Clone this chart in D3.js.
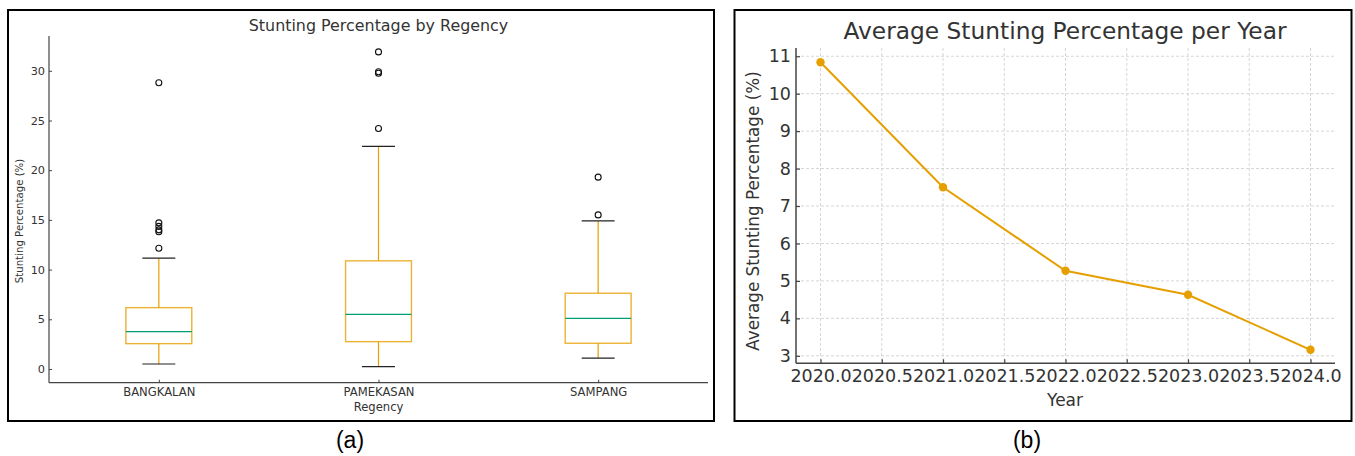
<!DOCTYPE html>
<html lang="en">
<head>
<meta charset="UTF-8">
<title>Stunting Percentage</title>
<script src="https://d3js.org/d3.v7.min.js"></script>
<style>
  body { margin: 0; background: #fff; }
  svg text { font-family: "DejaVu Sans", sans-serif; }
  .caption { font-family: "Liberation Sans", Arial, sans-serif !important; }
  .tick text { fill: #333; }
</style>
</head>
<body>
<svg id="chart" width="1355" height="456"></svg>
<script>
// ---- data: box plot (a) ----
var regencies = ["BANGKALAN", "PAMEKASAN", "SAMPANG"];
var q1 = [2.55, 2.75, 2.59];
var median = [3.76, 5.5, 5.1];
var q3 = [6.17, 10.88, 7.62];
var whiskerLow = [0.5, 0.23, 1.1];
var whiskerHigh = [11.15, 22.4, 14.9];
var outliers = [
  [12.15, 13.8, 14.0, 14.35, 14.7, 28.8],
  [24.2, 29.75, 29.9, 31.9],
  [15.5, 19.3]
];
var boxTicks = [0, 5, 10, 15, 20, 25, 30];

// ---- data: line chart (b) ----
var years = [2020, 2021, 2022, 2023, 2024];
var avgStunting = [10.84, 7.5, 5.27, 4.63, 3.16];
var yearTicks = [2020, 2020.5, 2021, 2021.5, 2022, 2022.5, 2023, 2023.5, 2024];
var avgTicks = [3, 4, 5, 6, 7, 8, 9, 10, 11];

var svg = d3.select("#chart");
var orange = "#E69F00", green = "#009E73", axisCol = "#444";

// frames around the two panels
svg.append("rect").attr("x", 8).attr("y", 10).attr("width", 706).attr("height", 411)
  .attr("fill", "none").attr("stroke", "#000").attr("stroke-width", 2);
svg.append("rect").attr("x", 734.5).attr("y", 10).attr("width", 617).attr("height", 411)
  .attr("fill", "none").attr("stroke", "#000").attr("stroke-width", 2);

// ================= panel (a) =================
var xa = d3.scaleLinear().domain([0.5, 3.5]).range([49, 708]);
var ya = d3.scaleLinear().domain([-1.38, 33.5]).range([382.7, 36]);
var ga = svg.append("g");

// axes
var yAxisA = ga.append("g").attr("transform", "translate(49,0)")
  .call(d3.axisRight(ya).tickValues(boxTicks).tickSize(3).tickFormat(d3.format("d")));
yAxisA.selectAll(".tick text").attr("x", -4).attr("text-anchor", "end").style("font-size", "11.3px");
var xAxisA = ga.append("g").attr("transform", "translate(0,382.7)")
  .call(d3.axisTop(xa).tickValues([1, 2, 3]).tickSize(3).tickFormat(function(d) { return regencies[d - 1]; }));
xAxisA.selectAll(".tick text").attr("y", 13.5).attr("dy", "0").style("font-size", "11.6px");
[yAxisA, xAxisA].forEach(function(a) {
  a.select(".domain").attr("stroke", axisCol).attr("stroke-width", 1.2);
  a.selectAll(".tick line").attr("stroke", axisCol);
});
xAxisA.select(".domain").attr("d", "M49,0H708");
yAxisA.select(".domain").attr("d", "M0,36V382.7");

var boxW = 0.3, capW = 0.15;
regencies.forEach(function(r, i) {
  var c = i + 1;
  var g = ga.append("g");
  // whiskers
  g.append("line").attr("x1", xa(c)).attr("x2", xa(c)).attr("y1", ya(q3[i])).attr("y2", ya(whiskerHigh[i]))
    .attr("stroke", orange).attr("stroke-width", 1.2);
  g.append("line").attr("x1", xa(c)).attr("x2", xa(c)).attr("y1", ya(q1[i])).attr("y2", ya(whiskerLow[i]))
    .attr("stroke", orange).attr("stroke-width", 1.2);
  // caps
  [whiskerHigh[i], whiskerLow[i]].forEach(function(v) {
    g.append("line").attr("x1", xa(c - capW / 2)).attr("x2", xa(c + capW / 2))
      .attr("y1", ya(v)).attr("y2", ya(v)).attr("stroke", "#222").attr("stroke-width", 1.2);
  });
  // box
  g.append("rect").attr("x", xa(c - boxW / 2)).attr("y", ya(q3[i]))
    .attr("width", xa(c + boxW / 2) - xa(c - boxW / 2)).attr("height", ya(q1[i]) - ya(q3[i]))
    .attr("fill", "none").attr("stroke", orange).attr("stroke-opacity", 0.8).attr("stroke-width", 1.4);
  // median
  g.append("line").attr("x1", xa(c - boxW / 2)).attr("x2", xa(c + boxW / 2))
    .attr("y1", ya(median[i])).attr("y2", ya(median[i])).attr("stroke", green).attr("stroke-width", 1.2);
  // fliers
  g.selectAll("circle").data(outliers[i]).enter().append("circle")
    .attr("cx", xa(c)).attr("cy", function(d) { return ya(d); }).attr("r", 3)
    .attr("fill", "none").attr("stroke", "#111").attr("stroke-width", 1.1);
});

ga.append("text").attr("x", 378.5).attr("y", 31).attr("text-anchor", "middle")
  .style("font-size", "15.9px").attr("fill", "#333").text("Stunting Percentage by Regency");
ga.append("text").attr("transform", "translate(23,221) rotate(-90)").attr("text-anchor", "middle")
  .style("font-size", "10.2px").attr("fill", "#333").text("Stunting Percentage (%)");
ga.append("text").attr("x", 378.5).attr("y", 411).attr("text-anchor", "middle")
  .style("font-size", "11.6px").attr("fill", "#333").text("Regency");

// ================= panel (b) =================
var xb = d3.scaleLinear().domain([2019.8, 2024.2]).range([796, 1335]);
var yb = d3.scaleLinear().domain([2.8, 11.22]).range([363.3, 48]);
var gb = svg.append("g");

// grid
gb.append("g").selectAll("line").data(yearTicks).enter().append("line")
  .attr("x1", function(d) { return xb(d); }).attr("x2", function(d) { return xb(d); })
  .attr("y1", 48).attr("y2", 363.3)
  .attr("stroke", "#ccc").attr("stroke-width", 0.8).attr("stroke-dasharray", "3,2");
gb.append("g").selectAll("line").data(avgTicks).enter().append("line")
  .attr("x1", 796).attr("x2", 1335)
  .attr("y1", function(d) { return yb(d); }).attr("y2", function(d) { return yb(d); })
  .attr("stroke", "#ccc").attr("stroke-width", 0.8).attr("stroke-dasharray", "3,2");

var yAxisB = gb.append("g").attr("transform", "translate(796,0)")
  .call(d3.axisRight(yb).tickValues(avgTicks).tickSize(4).tickFormat(d3.format("d")));
yAxisB.selectAll(".tick text").attr("x", -5).attr("text-anchor", "end").style("font-size", "17.5px");
var xAxisB = gb.append("g").attr("transform", "translate(0,363.3)")
  .call(d3.axisTop(xb).tickValues(yearTicks).tickSize(4).tickFormat(d3.format(".1f")));
xAxisB.selectAll(".tick text").attr("y", 19).attr("dy", "0").style("font-size", "17.5px");
[yAxisB, xAxisB].forEach(function(a) {
  a.select(".domain").attr("stroke", axisCol).attr("stroke-width", 1.5);
  a.selectAll(".tick line").attr("stroke", axisCol).attr("stroke-width", 1.2);
});
xAxisB.select(".domain").attr("d", "M796,0H1335");
yAxisB.select(".domain").attr("d", "M0,48V363.3");

var line = d3.line().x(function(d, i) { return xb(years[i]); }).y(function(d) { return yb(d); });
gb.append("path").datum(avgStunting).attr("d", line)
  .attr("fill", "none").attr("stroke", orange).attr("stroke-width", 2);
gb.selectAll(".pt").data(avgStunting).enter().append("circle").attr("class", "pt")
  .attr("cx", function(d, i) { return xb(years[i]); }).attr("cy", function(d) { return yb(d); })
  .attr("r", 4.2).attr("fill", orange);

gb.append("text").attr("x", 1065).attr("y", 39).attr("text-anchor", "middle")
  .style("font-size", "23.3px").attr("fill", "#333").text("Average Stunting Percentage per Year");
gb.append("text").attr("transform", "translate(759,211) rotate(-90)").attr("text-anchor", "middle")
  .style("font-size", "16.8px").attr("fill", "#333").text("Average Stunting Percentage (%)");
gb.append("text").attr("x", 1065).attr("y", 406).attr("text-anchor", "middle")
  .style("font-size", "17px").attr("fill", "#333").text("Year");

// captions
svg.append("text").attr("class", "caption").attr("x", 350).attr("y", 448).attr("text-anchor", "middle")
  .style("font-size", "23px").attr("fill", "#000").text("(a)");
svg.append("text").attr("class", "caption").attr("x", 1027).attr("y", 448).attr("text-anchor", "middle")
  .style("font-size", "23px").attr("fill", "#000").text("(b)");
</script>
</body>
</html>
